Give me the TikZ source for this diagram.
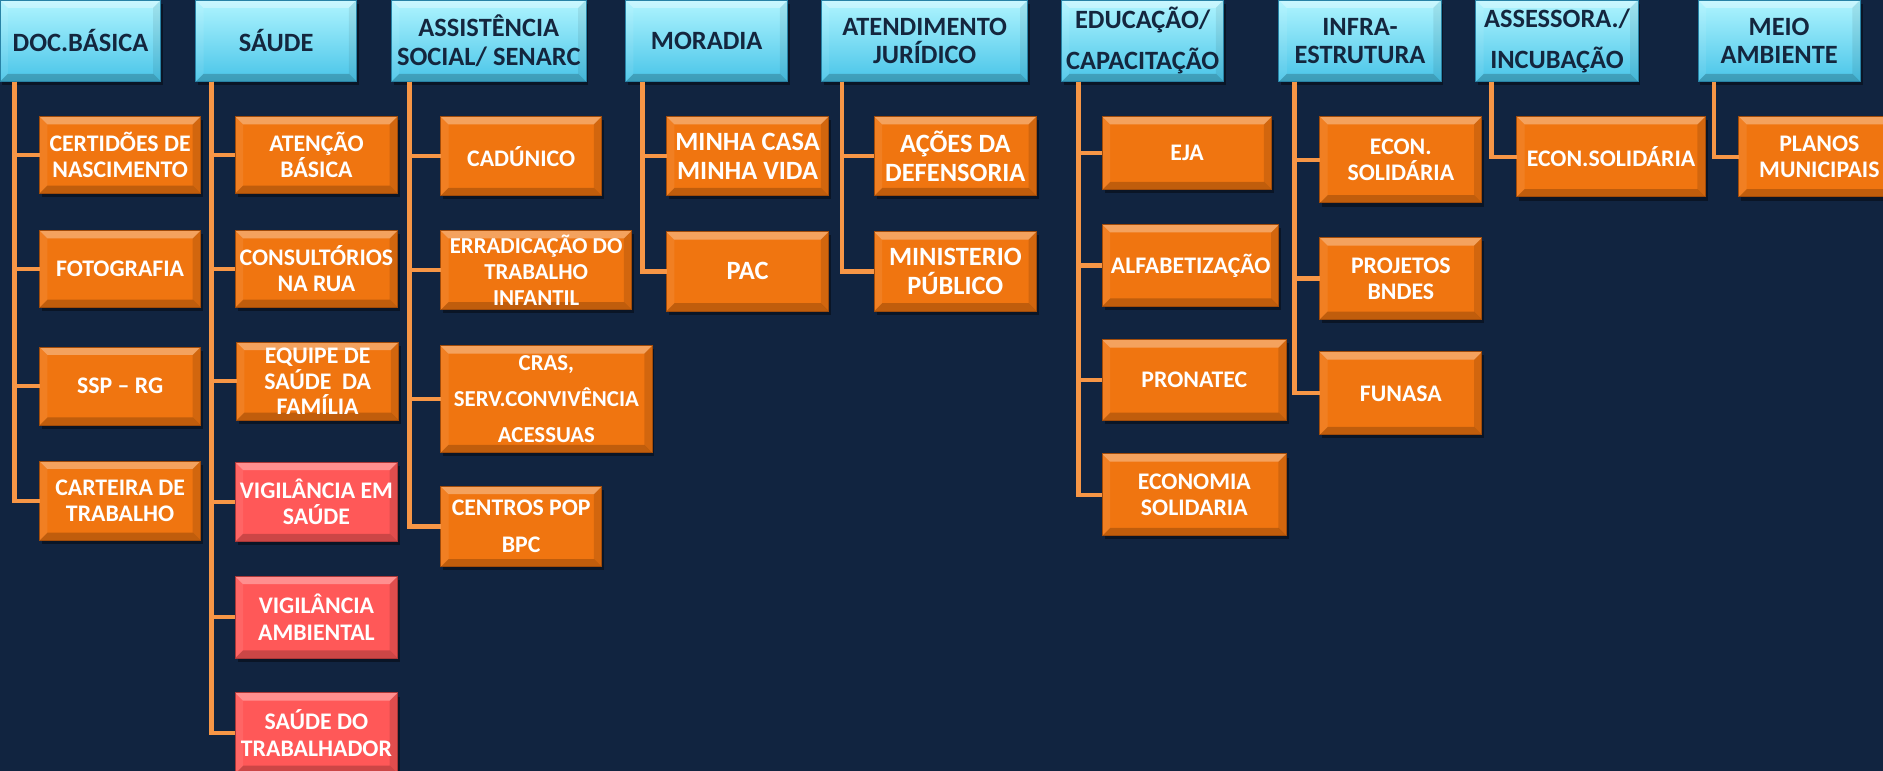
\documentclass[tikz,border=0pt]{standalone}
\usepackage{fontspec}
\setmainfont{Carlito}
\usetikzlibrary{calc,shadows}
\definecolor{bg}{RGB}{17,36,64}
\definecolor{hdrtop}{RGB}{176,245,255}
\definecolor{hdrbot}{RGB}{72,196,232}
\definecolor{hdrtext}{RGB}{20,38,62}
\definecolor{hdredge}{RGB}{40,130,165}
\definecolor{org}{RGB}{240,117,16}
\definecolor{orgedge}{RGB}{160,75,10}
\definecolor{redbox}{RGB}{255,88,88}
\definecolor{rededge}{RGB}{170,55,55}
\definecolor{conncol}{RGB}{247,150,70}
\tikzset{
  bevelamt/.store in=\bevrt, bevelamt=.12,
  bevel/.style={path picture={
    \fill[white,opacity=.33] (path picture bounding box.north west) -- (path picture bounding box.north east)
      -- ($(path picture bounding box.north east)+(-6.5pt,-6.5pt)$) -- ($(path picture bounding box.north west)+(6.5pt,-6.5pt)$) -- cycle;
    \fill[black,opacity=.2] (path picture bounding box.south west) -- (path picture bounding box.south east)
      -- ($(path picture bounding box.south east)+(-6.5pt,6.5pt)$) -- ($(path picture bounding box.south west)+(6.5pt,6.5pt)$) -- cycle;
    \fill[white,opacity=.08] (path picture bounding box.north west) -- ($(path picture bounding box.north west)+(6.5pt,-6.5pt)$)
      -- ($(path picture bounding box.south west)+(6.5pt,6.5pt)$) -- (path picture bounding box.south west) -- cycle;
    \fill[black,opacity=\bevrt] (path picture bounding box.north east) -- ($(path picture bounding box.north east)+(-6.5pt,-6.5pt)$)
      -- ($(path picture bounding box.south east)+(-6.5pt,6.5pt)$) -- (path picture bounding box.south east) -- cycle;
  }},
  basebox/.style={draw, line width=0.8pt, inner sep=0pt, outer sep=0pt, align=center, anchor=north west,
    bevel, drop shadow={shadow xshift=2pt, shadow yshift=-3pt, opacity=.4, fill=black}},
  hdr/.style={basebox, bevelamt=.07, draw=hdredge, top color=hdrtop, bottom color=hdrbot, text=hdrtext,
    font=\bfseries\fontsize{22}{23.5}\selectfont},
  hdrw/.style={hdr, font=\bfseries\fontsize{22}{34}\selectfont},
  obox/.style={basebox, draw=orgedge, fill=org, text=white, font=\bfseries\fontsize{19.8}{21.5}\selectfont},
  oboxbig/.style={obox, font=\bfseries\fontsize{22}{24.5}\selectfont},
  oboxsm/.style={obox, font=\bfseries\fontsize{19}{21.5}\selectfont},
  oboxwide/.style={obox, font=\bfseries\fontsize{19}{30}\selectfont},
  oboxwidetwo/.style={obox, font=\bfseries\fontsize{19.8}{31}\selectfont},
  rbox/.style={basebox, draw=rededge, fill=redbox, text=white, font=\bfseries\fontsize{19.8}{22}\selectfont},
  conn/.style={draw=conncol, line width=3.6pt},
}
\newcommand\mkbox[7]{\node[#2, minimum width={(#5-#3)*1pt}, minimum height={(#6-#4)*1pt}] (#1) at (#3,#4) {#7};}
\begin{document}
\begin{tikzpicture}[x=1pt,y=-1pt]
\fill[bg] (0,0) rectangle (1568,642);
\useasboundingbox (0,0) rectangle (1568,642);

% headers
\mkbox{h1}{hdr}{0}{0}{134}{68}{DOC.BÁSICA}
\mkbox{h2}{hdr}{163}{0}{297}{68}{SÁUDE}
\mkbox{h3}{hdr}{326}{0}{488}{68}{ASSISTÊNCIA\\SOCIAL/ SENARC}
\mkbox{h4}{hdr}{521}{0}{656}{68}{MORADIA}
\mkbox{h5}{hdr}{684}{0}{856}{68}{ATENDIMENTO\\JURÍDICO}
\mkbox{h6}{hdrw}{884}{0}{1019}{68}{EDUCAÇÃO/\\CAPACITAÇÃO}
\mkbox{h7}{hdr}{1065}{0}{1200}{68}{INFRA-\\ESTRUTURA}
\mkbox{h8}{hdrw}{1229}{0}{1364}{68}{ASSESSORA./\\INCUBAÇÃO}
\mkbox{h9}{hdr}{1414}{0}{1549}{68}{MEIO\\AMBIENTE}

% column 1
\mkbox{a1}{obox}{33}{97}{167}{161}{CERTIDÕES DE\\NASCIMENTO}
\mkbox{a2}{obox}{33}{192}{167}{256}{FOTOGRAFIA}
\mkbox{a3}{obox}{33}{289}{167}{354}{SSP – RG}
\mkbox{a4}{obox}{33}{384}{167}{450}{CARTEIRA DE\\TRABALHO}
% column 2
\mkbox{b1}{obox}{196}{97}{331}{161}{ATENÇÃO\\BÁSICA}
\mkbox{b2}{obox}{196}{192}{331}{256}{CONSULTÓRIOS\\NA RUA}
\mkbox{b3}{obox}{197}{285}{332}{350}{EQUIPE DE\\SAÚDE~ DA\\FAMÍLIA}
\mkbox{b4}{rbox}{196}{385}{331}{451}{VIGILÂNCIA EM\\SAÚDE}
\mkbox{b5}{rbox}{196}{480}{331}{548}{VIGILÂNCIA\\AMBIENTAL}
\mkbox{b6}{rbox}{196}{577}{331}{644}{SAÚDE DO\\TRABALHADOR}
% column 3
\mkbox{c1}{obox}{367}{97}{501}{163}{CADÚNICO}
\mkbox{c2}{oboxsm}{367}{192}{526}{258}{ERRADICAÇÃO DO\\TRABALHO\\INFANTIL}
\mkbox{c3}{oboxwide}{367}{288}{543}{377}{CRAS,\\SERV.CONVIVÊNCIA\\ACESSUAS}
\mkbox{c4}{oboxwidetwo}{367}{405}{501}{472}{CENTROS POP\\BPC}
% column 4
\mkbox{d1}{oboxbig}{555}{97}{690}{163}{MINHA CASA\\MINHA VIDA}
\mkbox{d2}{oboxbig}{555}{193}{690}{259}{PAC}
% column 5
\mkbox{e1}{oboxbig}{728}{97}{863}{163}{AÇÕES DA\\DEFENSORIA}
\mkbox{e2}{oboxbig}{728}{193}{863}{259}{MINISTERIO\\PÚBLICO}
% column 6
\mkbox{f1}{obox}{918}{97}{1059}{158}{EJA}
\mkbox{f2}{obox}{918}{187}{1065}{255}{ALFABETIZAÇÃO}
\mkbox{f3}{obox}{918}{283}{1071}{350}{PRONATEC}
\mkbox{f4}{obox}{918}{378}{1071}{446}{ECONOMIA\\SOLIDARIA}
% column 7
\mkbox{g1}{obox}{1099}{97}{1234}{169}{ECON.\\SOLIDÁRIA}
\mkbox{g2}{obox}{1099}{198}{1234}{266}{PROJETOS\\BNDES}
\mkbox{g3}{obox}{1099}{293}{1234}{362}{FUNASA}
% column 8
\mkbox{k1}{obox}{1263}{97}{1420}{164}{ECON.SOLIDÁRIA}
% column 9
\mkbox{m1}{obox}{1448}{97}{1582}{164}{PLANOS\\MUNICIPAIS}

% connectors
\foreach \c in {a1,a2,a3,a4} \draw[conn] ($(h1.south west)+(12pt,0)$) |- (\c.west);
\foreach \c in {b1,b2,b3,b4,b5,b6} \draw[conn] ($(h2.south west)+(13pt,0)$) |- (\c.west);
\foreach \c in {c1,c2,c3,c4} \draw[conn] ($(h3.south west)+(15pt,0)$) |- (\c.west);
\foreach \c in {d1,d2} \draw[conn] ($(h4.south west)+(14pt,0)$) |- (\c.west);
\foreach \c in {e1,e2} \draw[conn] ($(h5.south west)+(17pt,0)$) |- (\c.west);
\foreach \c in {f1,f2,f3,f4} \draw[conn] ($(h6.south west)+(14pt,0)$) |- (\c.west);
\foreach \c in {g1,g2,g3} \draw[conn] ($(h7.south west)+(13pt,0)$) |- (\c.west);
\draw[conn] ($(h8.south west)+(13pt,0)$) |- (k1.west);
\draw[conn] ($(h9.south west)+(13pt,0)$) |- (m1.west);
\end{tikzpicture}
\end{document}
